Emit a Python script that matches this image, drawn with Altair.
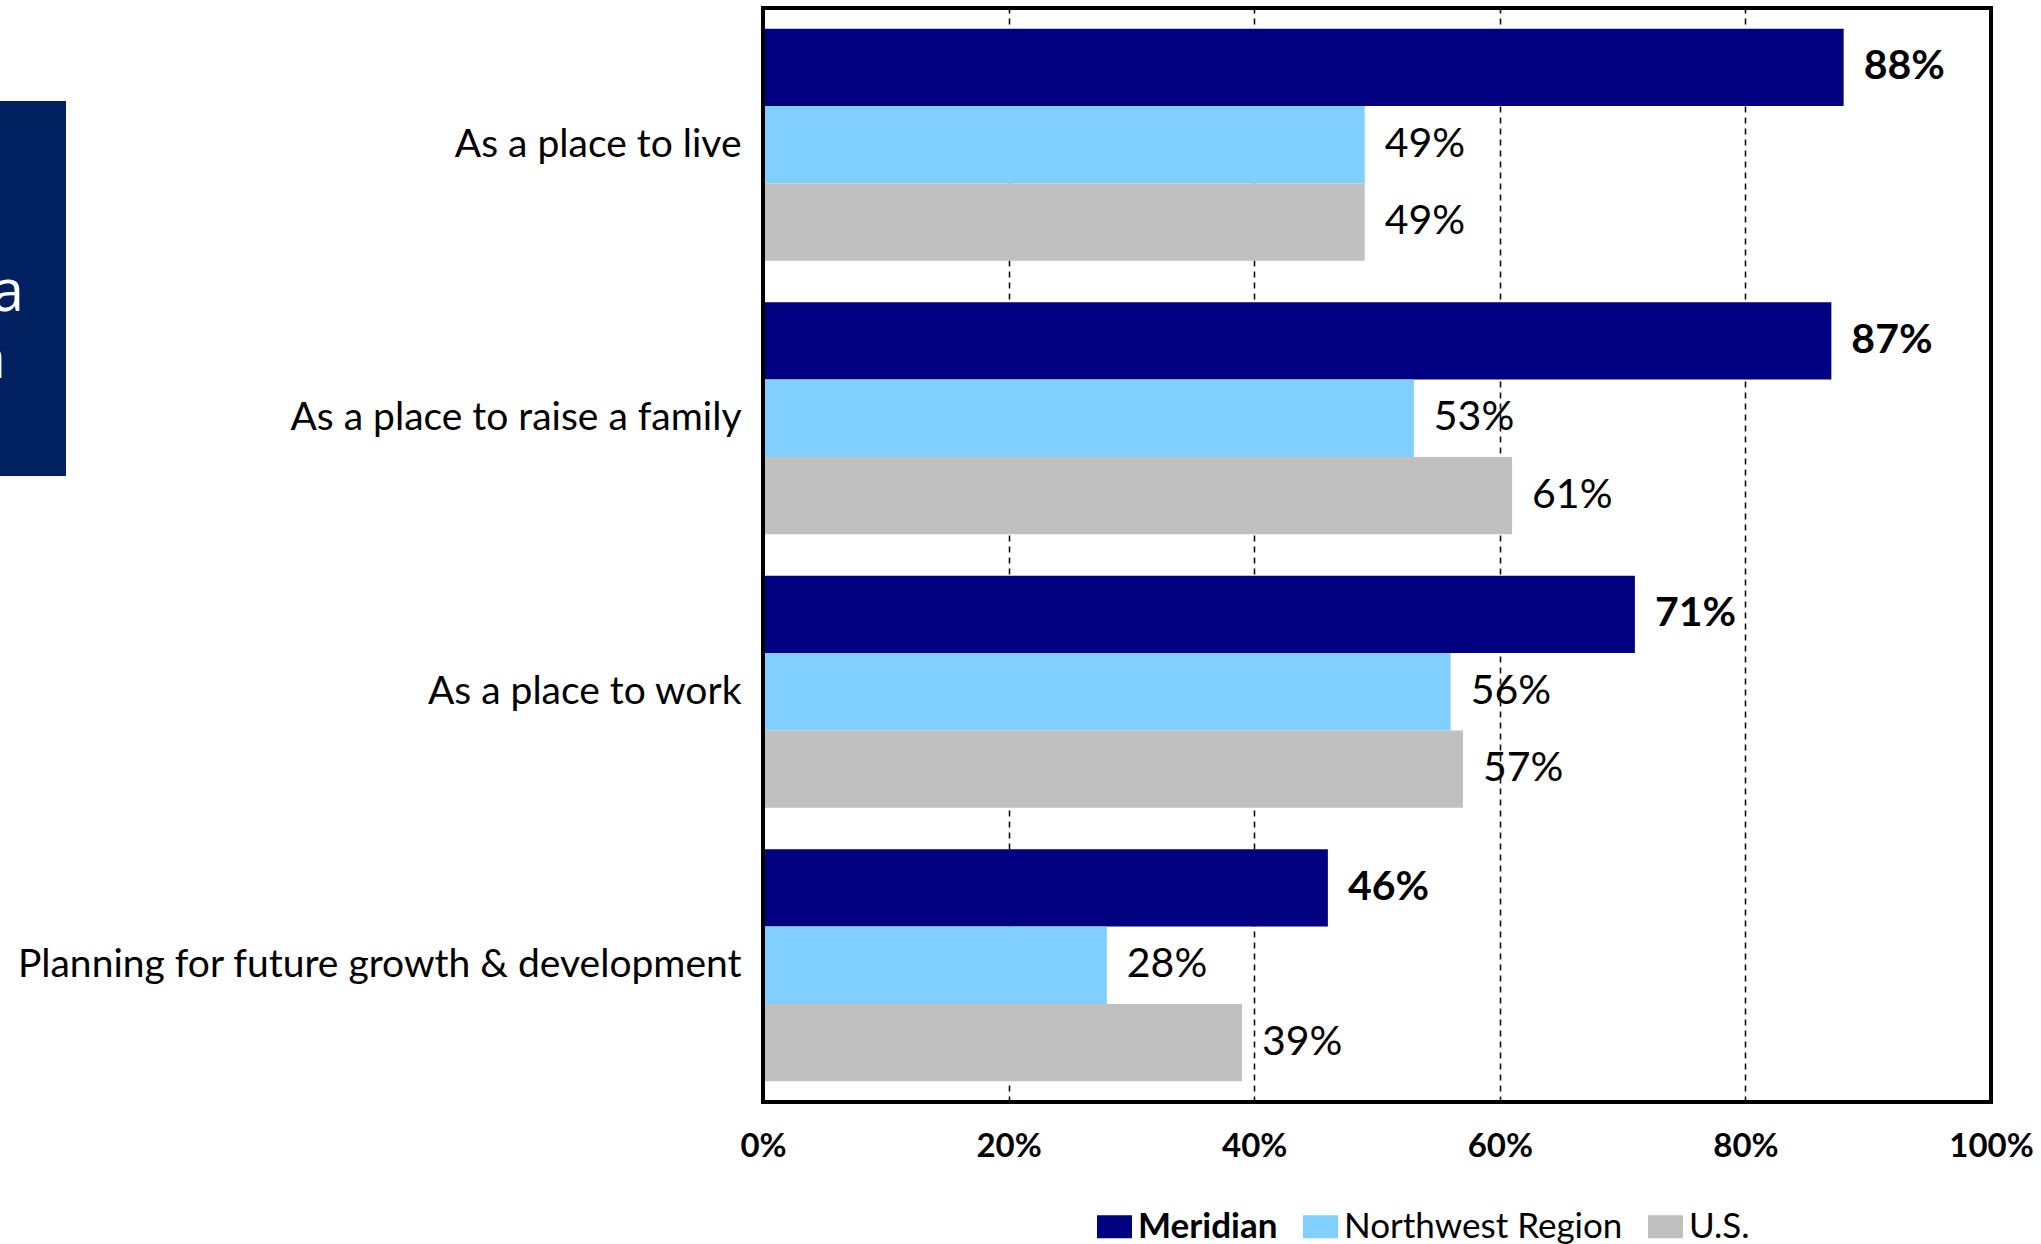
import altair as alt
import pandas as pd

# Survey ratings by aspect, three comparison groups
categories = [
    "As a place to live",
    "As a place to raise a family",
    "As a place to work",
    "Planning for future growth & development",
]
series = ["Meridian", "Northwest Region", "U.S."]
meridian = [88, 87, 71, 46]
northwest = [49, 53, 56, 28]
us = [49, 61, 57, 39]
tick_values = [0, 20, 40, 60, 80, 100]
colors = ["#000080", "#80CFFF", "#C0C0C0"]

rows = []
for vals, name in zip([meridian, northwest, us], series):
    for cat, v in zip(categories, vals):
        rows.append({"category": cat, "series": name, "value": v})
df = pd.DataFrame(rows)

W, H = 1228, 1094
FONT = "Lato"

base = alt.Chart(df).transform_calculate(label="datum.value + '%'")

y_enc = alt.Y(
    "category:N",
    sort=categories,
    scale=alt.Scale(paddingInner=0.152, paddingOuter=0.076),
    axis=alt.Axis(
        title=None, ticks=False, domain=False, labelPadding=22,
        labelFontSize=39, labelFont=FONT, labelColor="black", labelLimit=900,
    ),
)
y_off = alt.YOffset("series:N", sort=series,
                    scale=alt.Scale(paddingInner=0, paddingOuter=0))
x_enc = alt.X(
    "value:Q",
    scale=alt.Scale(domain=[0, 100], nice=False),
    axis=alt.Axis(
        title=None, ticks=False, domain=False, values=tick_values,
        labelExpr="datum.value + '%'", labelFontWeight="bold",
        labelFontSize=33, labelFont=FONT, labelColor="black",
        labelPadding=44, labelBaseline="middle", labelFlush=False,
        grid=True, gridColor="#111111", gridDash=[6, 5], gridWidth=1.6,
    ),
)

bars = base.mark_bar().encode(
    y=y_enc,
    yOffset=y_off,
    x=x_enc,
    color=alt.Color(
        "series:N",
        sort=series,
        scale=alt.Scale(domain=series, range=colors),
        legend=alt.Legend(
            title=None, orient="none", direction="horizontal",
            legendX=334, legendY=1201, padding=0,
            symbolType="M-1,-0.66H1V0.66H-1Z", symbolSize=1225,
            symbolStrokeWidth=0, symbolOpacity=1,
            labelFont=FONT, labelFontSize=35, labelColor="black",
            labelLimit=1000, labelOffset=6, columnPadding=25,
            labelFontWeight=alt.ExprRef(
                expr="datum.label === 'Meridian' ? 'bold' : 'normal'"
            ),
        ),
    ),
)

labels_bold = base.transform_filter("datum.series === 'Meridian'").mark_text(
    align="left", baseline="middle", dx=20, font=FONT, fontSize=41,
    fontWeight="bold", color="black",
).encode(y=alt.Y("category:N", sort=categories), yOffset=y_off,
         x="value:Q", text="label:N")

labels_reg = base.transform_filter("datum.series !== 'Meridian'").mark_text(
    align="left", baseline="middle", dx=20, font=FONT, fontSize=41,
    color="black",
).encode(y=alt.Y("category:N", sort=categories), yOffset=y_off,
         x="value:Q", text="label:N")

one = alt.Chart(pd.DataFrame({"k": [0]}))

frame = one.mark_rect(fill=None, stroke="black", strokeWidth=4).encode(
    x=alt.value(0), x2=alt.value(W), y=alt.value(0), y2=alt.value(H)
)

# Dark side panel at the left edge of the slide
panel = one.mark_rect(fill="#002060").encode(
    x=alt.value(-763), x2=alt.value(-697), y=alt.value(93), y2=alt.value(468)
)
panel_a = one.mark_text(align="right", baseline="alphabetic", font="Open Sans",
                        fontSize=58, color="white").encode(
    x=alt.value(-739), y=alt.value(303), text=alt.value("a"))
panel_n = one.mark_text(align="right", baseline="alphabetic", font="Open Sans",
                        fontSize=58, color="white").encode(
    x=alt.value(-757), y=alt.value(370), text=alt.value("n"))

chart = alt.layer(
    bars, labels_bold, labels_reg, frame, panel, panel_a, panel_n
).properties(
    width=W, height=H,
    autosize=alt.AutoSizeParams(type="none"),
    padding={"left": 763, "top": 8, "right": 50, "bottom": 142},
).configure_view(stroke=None).configure(background="white")

chart.save("out.html", embed_options={"renderer": "svg", "actions": False})
